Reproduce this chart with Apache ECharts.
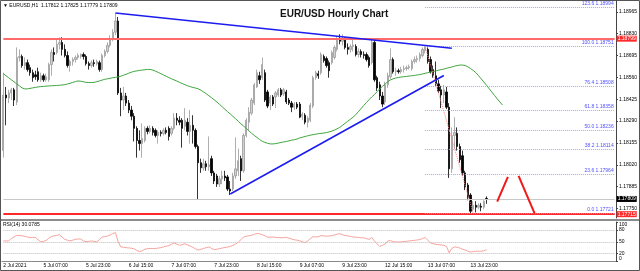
<!DOCTYPE html>
<html><head><meta charset="utf-8">
<script src="https://cdn.jsdelivr.net/npm/echarts@6/dist/echarts.min.js"></script>
<style>html,body{margin:0;padding:0;background:#fff;overflow:hidden}#c{width:640px;height:271px}</style>
</head><body><div id="c"></div>
<script>
const FONT = 'Liberation Sans, Arial, sans-serif';
const slotCount = 230;
const timeLabels = ['2 Jul 2021','5 Jul 07:00','5 Jul 23:00','6 Jul 15:00','7 Jul 07:00','7 Jul 23:00','8 Jul 15:00','9 Jul 07:00','9 Jul 23:00','12 Jul 15:00','13 Jul 07:00','13 Jul 23:00'];
const timeLabelIndex = [0,15,31,47,63,79,95,111,127,143,159,175];
const priceTicks = [1.17750,1.17885,1.18020,1.18155,1.18290,1.18425,1.18560,1.18695,1.18830,1.18965];
const rsiTicks = [0,20,50,80,100];
const rsiLevels = [20,50,80];
const fibLevels = ['0.0','23.6','38.2','50.0','61.8','76.4','100.0','123.6'];
const fibPrices = [1.17721,1.17964,1.18114,1.18236,1.18358,1.18508,1.18751,1.18994];
const fibStart = 158;
const resistance = 1.18799;
const support = 1.17715;
const lastPrice = 1.17809;
const upperTrend = [[42,1.18958],[168,1.18740]];
const lowerTrend = [[85,1.17840],[165,1.18572]];
const fibDiag = [[158,1.18751],[176,1.17721]];
const arrowUp = [[185,1.17792],[189,1.17945]];
const arrowDown = [[193,1.17951],[199,1.17720]];
// [open, close, low, high]
const ohlc = [
[1.18108,1.18451,1.18064,1.18589],[1.18451,1.18433,1.18264,1.18501],[1.18433,1.18464,1.18401,1.18483],[1.18464,1.18483,1.18420,1.18495],[1.18483,1.18420,1.18383,1.18495],
[1.18408,1.18683,1.18389,1.18745],[1.18683,1.18689,1.18658,1.18733],[1.18689,1.18633,1.18620,1.18701],[1.18633,1.18651,1.18608,1.18683],[1.18651,1.18608,1.18595,1.18670],
[1.18620,1.18589,1.18570,1.18639],[1.18589,1.18558,1.18533,1.18608],[1.18576,1.18564,1.18545,1.18601],[1.18595,1.18545,1.18533,1.18620],[1.18545,1.18570,1.18533,1.18589],
[1.18570,1.18545,1.18533,1.18583],[1.18545,1.18564,1.18533,1.18583],[1.18545,1.18639,1.18533,1.18651],[1.18639,1.18714,1.18570,1.18733],[1.18714,1.18701,1.18658,1.18745],
[1.18714,1.18764,1.18701,1.18795],[1.18764,1.18776,1.18733,1.18808],[1.18776,1.18733,1.18695,1.18808],[1.18733,1.18695,1.18683,1.18764],[1.18695,1.18633,1.18620,1.18720],
[1.18633,1.18658,1.18595,1.18670],[1.18658,1.18670,1.18633,1.18683],[1.18670,1.18683,1.18651,1.18695],[1.18683,1.18695,1.18670,1.18708],[1.18689,1.18701,1.18676,1.18708],
[1.18701,1.18689,1.18670,1.18714],[1.18689,1.18645,1.18633,1.18701],[1.18645,1.18633,1.18608,1.18658],[1.18633,1.18651,1.18620,1.18664],[1.18651,1.18645,1.18626,1.18670],
[1.18645,1.18658,1.18633,1.18670],[1.18651,1.18608,1.18595,1.18664],[1.18608,1.18695,1.18595,1.18708],[1.18695,1.18720,1.18683,1.18733],[1.18720,1.18758,1.18708,1.18776],
[1.18758,1.18795,1.18745,1.18820],[1.18795,1.18839,1.18783,1.18858],[1.18839,1.18908,1.18820,1.18958],[1.18908,1.18464,1.18451,1.18933],[1.18464,1.18420,1.18320,1.18495],
[1.18420,1.18445,1.18358,1.18501],[1.18445,1.18401,1.18383,1.18464],[1.18401,1.18358,1.18339,1.18420],[1.18358,1.18320,1.18295,1.18383],[1.18320,1.18245,1.18164,1.18339],
[1.18245,1.18170,1.18064,1.18258],[1.18170,1.18151,1.18108,1.18233],[1.18151,1.18183,1.18064,1.18276],[1.18170,1.18245,1.18158,1.18258],[1.18245,1.18226,1.18208,1.18258],
[1.18226,1.18245,1.18214,1.18264],[1.18245,1.18220,1.18201,1.18258],[1.18233,1.18201,1.18189,1.18245],[1.18201,1.18220,1.18151,1.18233],[1.18220,1.18214,1.18195,1.18233],
[1.18214,1.18233,1.18201,1.18245],[1.18233,1.18220,1.18208,1.18251],[1.18245,1.18195,1.18170,1.18258],[1.18214,1.18245,1.18201,1.18258],[1.18245,1.18308,1.18233,1.18339],
[1.18308,1.18295,1.18264,1.18339],[1.18295,1.18283,1.18264,1.18320],[1.18295,1.18245,1.18126,1.18308],[1.18258,1.18295,1.18233,1.18370],[1.18283,1.18226,1.18201,1.18308],
[1.18226,1.18264,1.18151,1.18358],[1.18264,1.18233,1.18151,1.18326],[1.18233,1.18133,1.18120,1.18245],[1.18133,1.18033,1.17808,1.18145],[1.18033,1.18001,1.17970,1.18058],
[1.18001,1.18026,1.17983,1.18058],[1.18026,1.18008,1.17983,1.18045],[1.18008,1.18020,1.17983,1.18195],[1.18058,1.17970,1.17951,1.18076],[1.17970,1.17920,1.17901,1.17983],
[1.17951,1.17901,1.17883,1.17964],[1.17901,1.17933,1.17883,1.17951],[1.17933,1.17951,1.17901,1.17983],[1.17951,1.17939,1.17920,1.17983],[1.17945,1.17870,1.17858,1.17958],
[1.17870,1.17858,1.17833,1.17920],[1.17870,1.17951,1.17858,1.17970],[1.17951,1.17995,1.17933,1.18189],[1.17983,1.18045,1.17951,1.18120],[1.18058,1.17983,1.17920,1.18076],
[1.17983,1.18201,1.17970,1.18214],[1.18201,1.18295,1.18189,1.18308],[1.18283,1.18345,1.18233,1.18376],[1.18339,1.18420,1.18326,1.18433],[1.18401,1.18514,1.18389,1.18526],
[1.18501,1.18589,1.18495,1.18608],[1.18570,1.18545,1.18520,1.18595],[1.18558,1.18639,1.18545,1.18683],[1.18589,1.18420,1.18408,1.18608],[1.18470,1.18383,1.18370,1.18483],
[1.18401,1.18439,1.18358,1.18451],[1.18439,1.18395,1.18383,1.18451],[1.18439,1.18464,1.18370,1.18476],[1.18451,1.18483,1.18439,1.18495],[1.18483,1.18451,1.18439,1.18495],
[1.18458,1.18483,1.18445,1.18495],[1.18470,1.18408,1.18395,1.18483],[1.18420,1.18401,1.18389,1.18433],[1.18401,1.18376,1.18345,1.18414],[1.18376,1.18395,1.18358,1.18408],
[1.18395,1.18376,1.18364,1.18408],[1.18395,1.18314,1.18308,1.18408],[1.18320,1.18333,1.18295,1.18345],[1.18326,1.18283,1.18270,1.18339],[1.18283,1.18308,1.18251,1.18320],
[1.18295,1.18389,1.18283,1.18401],[1.18383,1.18558,1.18370,1.18570],[1.18558,1.18589,1.18545,1.18601],[1.18583,1.18570,1.18551,1.18601],[1.18589,1.18701,1.18576,1.18714],
[1.18689,1.18664,1.18651,1.18701],[1.18676,1.18633,1.18620,1.18689],[1.18651,1.18601,1.18558,1.18664],[1.18651,1.18714,1.18639,1.18726],[1.18683,1.18745,1.18670,1.18758],
[1.18733,1.18801,1.18720,1.18814],[1.18801,1.18783,1.18764,1.18826],[1.18783,1.18795,1.18758,1.18826],[1.18795,1.18745,1.18733,1.18808],[1.18745,1.18733,1.18701,1.18770],
[1.18733,1.18751,1.18714,1.18764],[1.18751,1.18758,1.18720,1.18795],[1.18751,1.18701,1.18689,1.18764],[1.18701,1.18720,1.18683,1.18739],[1.18720,1.18701,1.18683,1.18733],
[1.18701,1.18695,1.18676,1.18720],[1.18701,1.18670,1.18658,1.18714],[1.18683,1.18633,1.18620,1.18695],[1.18651,1.18776,1.18639,1.18795],[1.18776,1.18545,1.18533,1.18789],
[1.18558,1.18495,1.18476,1.18570],[1.18514,1.18445,1.18420,1.18533],[1.18445,1.18395,1.18376,1.18470],[1.18408,1.18514,1.18389,1.18533],[1.18514,1.18570,1.18495,1.18589],
[1.18564,1.18670,1.18551,1.18739],[1.18670,1.18595,1.18583,1.18683],[1.18595,1.18601,1.18570,1.18620],[1.18601,1.18595,1.18583,1.18614],[1.18595,1.18608,1.18583,1.18626],
[1.18608,1.18614,1.18589,1.18633],[1.18614,1.18620,1.18601,1.18633],[1.18620,1.18626,1.18608,1.18639],[1.18614,1.18658,1.18601,1.18670],[1.18658,1.18670,1.18645,1.18689],
[1.18670,1.18676,1.18651,1.18695],[1.18676,1.18701,1.18658,1.18714],[1.18695,1.18733,1.18683,1.18745],[1.18726,1.18745,1.18708,1.18751],[1.18733,1.18658,1.18645,1.18745],
[1.18670,1.18595,1.18583,1.18689],[1.18608,1.18570,1.18558,1.18633],[1.18570,1.18520,1.18508,1.18658],[1.18520,1.18476,1.18464,1.18545],[1.18483,1.18451,1.18370,1.18508],
[1.18451,1.18483,1.18401,1.18514],[1.18470,1.18376,1.18364,1.18501],[1.18376,1.17995,1.17939,1.18401],[1.17995,1.18201,1.17970,1.18251],[1.18201,1.18220,1.18120,1.18314],
[1.18214,1.18133,1.18108,1.18251],[1.18133,1.18051,1.18033,1.18151],[1.18076,1.17970,1.17951,1.18108],[1.17970,1.17883,1.17864,1.17983],[1.17895,1.17820,1.17801,1.17908],
[1.17833,1.17733,1.17721,1.17845],[1.17745,1.17770,1.17733,1.17795],[1.17770,1.17758,1.17726,1.17795],[1.17758,1.17770,1.17745,1.17783],[1.17764,1.17758,1.17733,1.17783],
[1.17758,1.17795,1.17745,1.17801],[1.17812,1.17809,1.17779,1.17825]
];
const ma = [
1.18583,1.18570,1.18558,1.18545,1.18533,1.18520,1.18508,1.18495,1.18489,1.18489,
1.18492,1.18495,1.18498,1.18501,1.18503,1.18504,1.18506,1.18507,1.18508,1.18509,
1.18510,1.18511,1.18513,1.18515,1.18519,1.18523,1.18529,1.18534,1.18538,1.18536,
1.18533,1.18529,1.18528,1.18528,1.18529,1.18533,1.18538,1.18543,1.18548,1.18551,
1.18554,1.18558,1.18560,1.18563,1.18567,1.18573,1.18579,1.18586,1.18592,1.18597,
1.18600,1.18603,1.18605,1.18607,1.18609,1.18609,1.18605,1.18598,1.18591,1.18583,
1.18575,1.18567,1.18559,1.18551,1.18544,1.18537,1.18529,1.18522,1.18515,1.18508,
1.18503,1.18498,1.18494,1.18489,1.18481,1.18470,1.18459,1.18446,1.18434,1.18421,
1.18408,1.18393,1.18378,1.18363,1.18348,1.18334,1.18319,1.18304,1.18289,1.18273,
1.18259,1.18245,1.18229,1.18215,1.18201,1.18189,1.18176,1.18165,1.18158,1.18153,
1.18149,1.18149,1.18151,1.18154,1.18158,1.18161,1.18164,1.18168,1.18172,1.18175,
1.18179,1.18186,1.18190,1.18195,1.18199,1.18203,1.18206,1.18209,1.18212,1.18214,
1.18216,1.18219,1.18223,1.18228,1.18234,1.18242,1.18251,1.18263,1.18276,1.18289,
1.18301,1.18314,1.18329,1.18348,1.18367,1.18386,1.18404,1.18422,1.18439,1.18454,
1.18471,1.18489,1.18504,1.18519,1.18533,1.18544,1.18551,1.18556,1.18559,1.18562,
1.18564,1.18566,1.18568,1.18570,1.18572,1.18575,1.18577,1.18581,1.18585,1.18589,
1.18593,1.18596,1.18600,1.18604,1.18608,1.18611,1.18616,1.18620,1.18624,1.18629,
1.18633,1.18636,1.18636,1.18633,1.18625,1.18615,1.18603,1.18589,1.18571,1.18551,
1.18531,1.18511,1.18490,1.18469,1.18448,1.18428,1.18408,1.18389
];
const rsi = [
52,52,52,58,62,66,66,65,64,62,
61,61,61,55,50,51,53,59,63,65,
66,68,62,56,54,52,54,56,57,57,
52,50,51,52,51,49.5,55,62,63,64.5,
67,71,73,50,37,36,35,34.5,33.5,32,
28,25,27,31,32.5,33,33,33,34,35,
37,39,40,44,47,44,41,42.5,45,42,
39,36,32,29,31,33,35,37,33,30,
31,32.5,34,35.5,36.5,38,40.5,44,49,55,
62,64,65,66.5,68.5,71,70,68,65,61.5,
61.5,62,61,60.5,60,60.5,61,59,57,55,
54,52.5,50,47.5,52,58,63,62,63,65.5,
65,64,64.5,65.5,67,69,70.5,68,66,65,
63.5,62,61.5,61,60,60,58,56,61,52,
45,38,41,44,52,53,50,49.5,49.5,49.5,
50.5,51,52,53,53.5,54.5,55.5,58,61,54,
47,45,43.5,42.5,42,41,38,22,33,37,
36,34,31,29,26,24,25,26,26,26,
27,30.0785
];

const cats = Array.from({length: slotCount}, (_, i) => String(i));
const labelMap = {};
timeLabelIndex.forEach((k, j) => { labelMap[k] = timeLabels[j]; });

const fibMarks = fibPrices.map((p, j) => [
  {coord: [fibStart, p], lineStyle: {color: '#a4a4ff', type: 'dotted', width: 1},
   label: {show: true, position: 'insideEndTop', formatter: fibLevels[j] + ' ' + p.toFixed(5),
           color: '#5050ff', fontSize: 5, distance: 1, fontFamily: FONT}},
  {coord: [slotCount - 1, p]}
]);

function hLine(v, color, width, bg) {
  return [
    {coord: [0, v], lineStyle: {color: color, width: width, type: 'solid'},
     label: {show: true, position: 'end', formatter: v.toFixed(5), backgroundColor: bg, color: '#fff',
             fontSize: 5, fontFamily: FONT, padding: [1, 1, 0, 1], distance: 2}},
    {coord: [slotCount - 1, v]}
  ];
}

const chart = echarts.init(document.getElementById('c'), null, {renderer: 'canvas', width: 640, height: 271});
const lineBase = {type: 'line', symbol: 'none', silent: true, xAxisIndex: 0, yAxisIndex: 0, z: 5};

chart.setOption({
  animation: false,
  backgroundColor: '#ffffff',
  title: {text: 'EUR/USD Hourly Chart', left: 275, top: 4,
          textStyle: {fontSize: 10, fontWeight: 'bold', color: '#141414', fontFamily: FONT}},
  grid: [
    {left: 2, right: 24, top: 1, height: 217, outerBoundsMode: 'none'},
    {left: 2, right: 24, top: 222, height: 39.5, outerBoundsMode: 'none'}
  ],
  xAxis: [
    {type: 'category', gridIndex: 0, data: cats, boundaryGap: true,
     axisLine: {show: false}, axisTick: {show: false}, axisLabel: {show: false}, splitLine: {show: false}},
    {type: 'category', gridIndex: 1, data: cats, boundaryGap: true,
     axisLine: {show: true, lineStyle: {color: '#8a8a8a'}}, axisTick: {show: false}, splitLine: {show: false},
     axisLabel: {show: true, interval: (i) => (i in labelMap), formatter: (v, i) => labelMap[i] || '',
                 align: 'left', fontSize: 5, color: '#000', margin: 2, fontFamily: FONT}}
  ],
  yAxis: [
    {type: 'value', gridIndex: 0, position: 'right', min: 1.176914, max: 1.190317, scale: true,
     axisLine: {show: true, lineStyle: {color: '#444'}},
     axisTick: {show: true, length: 2, customValues: priceTicks, lineStyle: {color: '#444'}},
     axisLabel: {customValues: priceTicks, formatter: (v) => v.toFixed(5), fontSize: 5, color: '#000', margin: 3, fontFamily: FONT},
     splitLine: {show: false}},
    {type: 'value', gridIndex: 1, position: 'right', min: 0, max: 100,
     axisLine: {show: true, lineStyle: {color: '#444'}},
     axisTick: {show: true, length: 2, customValues: rsiTicks, lineStyle: {color: '#444'}},
     axisLabel: {customValues: rsiTicks, fontSize: 5, color: '#000', margin: 3, fontFamily: FONT,
                 verticalAlignMaxLabel: 'top', verticalAlignMinLabel: 'bottom'},
     splitLine: {show: false}}
  ],
  series: [
    {type: 'candlestick', xAxisIndex: 0, yAxisIndex: 0, data: ohlc, barWidth: 1.8, silent: true, z: 3,
     itemStyle: {color: '#cfcfcf', color0: '#000000', borderColor: '#9a9a9a', borderColor0: '#000000', borderWidth: 0.8}},
    Object.assign({}, lineBase, {name: 'MA', data: ma, lineStyle: {color: '#3fa63f', width: 1}, z: 4,
     markLine: {symbol: 'none', silent: true, animation: false, z: 4,
       data: [
         hLine(lastPrice, '#c8c8c8', 1, '#000000'),
         hLine(resistance, '#ff6a6a', 2, '#ff2a2a'),
         hLine(support, '#ff2a2a', 2, '#ff2a2a')
       ].concat(fibMarks)}}),
    Object.assign({}, lineBase, {data: upperTrend, lineStyle: {color: '#1c1cf0', width: 1.6}}),
    Object.assign({}, lineBase, {data: lowerTrend, lineStyle: {color: '#1c1cf0', width: 1.6}}),
    Object.assign({}, lineBase, {data: fibDiag, lineStyle: {color: '#ff8080', width: 1, type: 'dotted'}}),
    Object.assign({}, lineBase, {data: arrowUp, lineStyle: {color: '#f01818', width: 2}}),
    Object.assign({}, lineBase, {data: arrowDown, lineStyle: {color: '#f01818', width: 2}}),
    {type: 'line', xAxisIndex: 1, yAxisIndex: 1, data: rsi, symbol: 'none', silent: true,
     lineStyle: {color: '#f6a49e', width: 1},
     markLine: {symbol: 'none', silent: true, label: {show: false},
       lineStyle: {color: '#bdbdbd', type: 'dotted', width: 1},
       data: rsiLevels.map(v => [{coord: [0, v]}, {coord: [slotCount - 1, v]}])}}
  ],
  graphic: [
    {type: 'text', left: 3, top: 3, silent: true,
     style: {text: '\u25BC EURUSD,H1  1.17812 1.17825 1.17779 1.17809', fontSize: 5, fill: '#000', fontFamily: FONT}},
    {type: 'text', left: 3, top: 222, silent: true,
     style: {text: 'RSI(14) 30.0785', fontSize: 5, fill: '#000', fontFamily: FONT}},
    {type: 'line', silent: true, shape: {x1: 0, y1: 220, x2: 640, y2: 220}, style: {stroke: '#8c8c8c', lineWidth: 2}},
    {type: 'rect', silent: true, shape: {x: 0.5, y: 0.5, width: 639, height: 270}, style: {fill: 'none', stroke: '#555', lineWidth: 1}}
  ]
});
</script>
</body></html>
